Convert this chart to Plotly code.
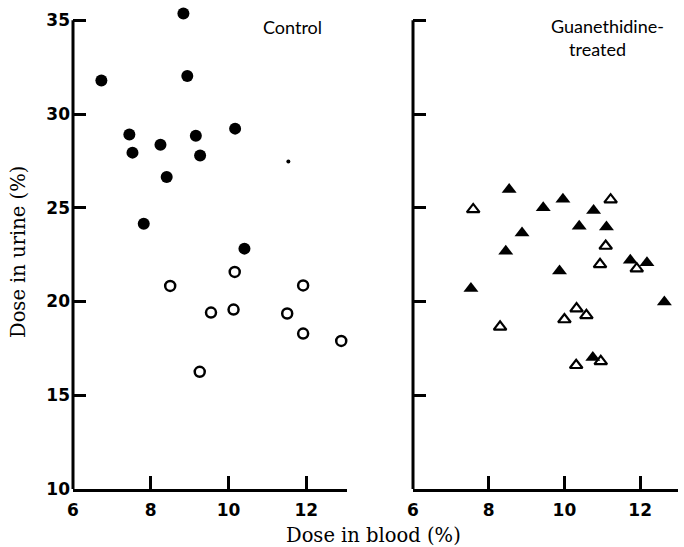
import plotly.graph_objects as go
from plotly.subplots import make_subplots

# Control panel
ctrl_filled_x = [6.73, 8.84, 8.94, 7.45, 7.53, 8.25, 8.41, 7.82, 9.16, 9.27, 10.17, 10.41]
ctrl_filled_y = [31.79, 35.36, 32.03, 28.91, 27.94, 28.36, 26.64, 24.15, 28.84, 27.79, 29.22, 22.82]
ctrl_small_x = [11.54]
ctrl_small_y = [27.47]
ctrl_open_x = [10.16, 8.50, 9.55, 10.13, 9.26, 11.92, 11.51, 11.92, 12.90]
ctrl_open_y = [21.58, 20.83, 19.41, 19.57, 16.25, 20.86, 19.36, 18.29, 17.90]

# Guanethidine-treated panel
gua_filled_x = [8.54, 9.44, 9.96, 10.77, 8.88, 10.39, 11.11, 8.45, 11.74, 12.18, 9.87, 7.53, 12.64, 10.75]
gua_filled_y = [25.98, 25.00, 25.45, 24.86, 23.66, 24.01, 23.98, 22.68, 22.20, 22.07, 21.63, 20.69, 19.98, 17.01]
gua_open_x = [7.59, 11.22, 11.09, 10.94, 11.91, 8.30, 10.00, 10.32, 10.58, 10.31, 10.96]
gua_open_y = [24.91, 25.43, 22.96, 21.98, 21.75, 18.65, 19.04, 19.62, 19.26, 16.60, 16.81]

y_ticks = [10, 15, 20, 25, 30, 35]
x_ticks = [6, 8, 10, 12]

fig = make_subplots(rows=1, cols=2, horizontal_spacing=0.0)

fig.add_trace(go.Scatter(x=ctrl_filled_x, y=ctrl_filled_y, mode="markers",
                         marker=dict(symbol="circle", size=12, color="black"),
                         cliponaxis=False, showlegend=False), row=1, col=1)
fig.add_trace(go.Scatter(x=ctrl_small_x, y=ctrl_small_y, mode="markers",
                         marker=dict(symbol="circle", size=4, color="black"),
                         cliponaxis=False, showlegend=False), row=1, col=1)
fig.add_trace(go.Scatter(x=ctrl_open_x, y=ctrl_open_y, mode="markers",
                         marker=dict(symbol="circle-open", size=10, color="black",
                                     line=dict(width=2.5, color="black")),
                         cliponaxis=False, showlegend=False), row=1, col=1)
fig.add_trace(go.Scatter(x=gua_filled_x, y=gua_filled_y, mode="markers",
                         marker=dict(symbol="triangle-up", size=13, color="black"),
                         cliponaxis=False, showlegend=False), row=1, col=2)
fig.add_trace(go.Scatter(x=gua_open_x, y=gua_open_y, mode="markers",
                         marker=dict(symbol="triangle-up-open", size=11, color="black",
                                     line=dict(width=2.2, color="black")),
                         cliponaxis=False, showlegend=False), row=1, col=2)

tickfont = dict(family="DejaVu Sans", size=17, color="black", weight="bold")
axis_common = dict(linecolor="black", linewidth=3, ticks="inside",
                   ticklen=13, tickwidth=3, tickcolor="black", showgrid=False,
                   zeroline=False, tickfont=tickfont)

fig.update_xaxes(axis_common, showline=True)
fig.update_yaxes(axis_common, showline=False)
fig.update_xaxes(range=[6, 13.05], tickvals=x_ticks, domain=[0, 0.453],
                 ticklabelstandoff=4, row=1, col=1)
fig.update_xaxes(range=[6, 13.0], tickvals=x_ticks, domain=[0.562, 1.0],
                 ticklabelstandoff=4, row=1, col=2)
fig.update_yaxes(range=[10, 35.6], tickvals=y_ticks, ticklabelstandoff=2,
                 row=1, col=1)
fig.update_yaxes(range=[10, 35.6], tickvals=y_ticks, showticklabels=False, row=1, col=2)

# vertical axis lines stopping at the top tick (35)
for xr, yr in (("x", "y"), ("x2", "y2")):
    fig.add_shape(type="line", xref=xr + " domain", yref=yr,
                  x0=0, x1=0, y0=y_ticks[0], y1=y_ticks[-1],
                  line=dict(color="black", width=3))

PH = 489 - 9  # plot height in px


def py(v):
    return (489 - v) / PH


serif = dict(family="DejaVu Serif", size=19.5, color="black")
fig.add_annotation(text="Dose in blood (%)", x=(373 - 73) / 605, y=py(535),
                   xref="paper", yref="paper",
                   xanchor="center", yanchor="middle", showarrow=False, font=serif)
fig.add_annotation(text="Dose in urine (%)", x=(18 - 73) / 605, y=py(252),
                   xref="paper", yref="paper",
                   xanchor="center", yanchor="middle", showarrow=False, font=serif,
                   textangle=-90)
label_font = dict(family="Lato", size=18, color="black")
fig.add_annotation(text="Control", x=(292 - 73) / 605, y=py(27),
                   xref="paper", yref="paper",
                   xanchor="center", yanchor="middle", showarrow=False, font=label_font)
fig.add_annotation(text="Guanethidine-", x=(549 - 73) / 605, y=py(26),
                   xref="paper", yref="paper",
                   xanchor="left", yanchor="middle", showarrow=False, font=label_font)
fig.add_annotation(text="treated", x=(567 - 73) / 605, y=py(49),
                   xref="paper", yref="paper",
                   xanchor="left", yanchor="middle", showarrow=False, font=label_font)

fig.update_layout(width=684, height=547, margin=dict(l=73, r=6, t=9, b=58),
                  plot_bgcolor="white", paper_bgcolor="white")

fig.write_html("out.html")
